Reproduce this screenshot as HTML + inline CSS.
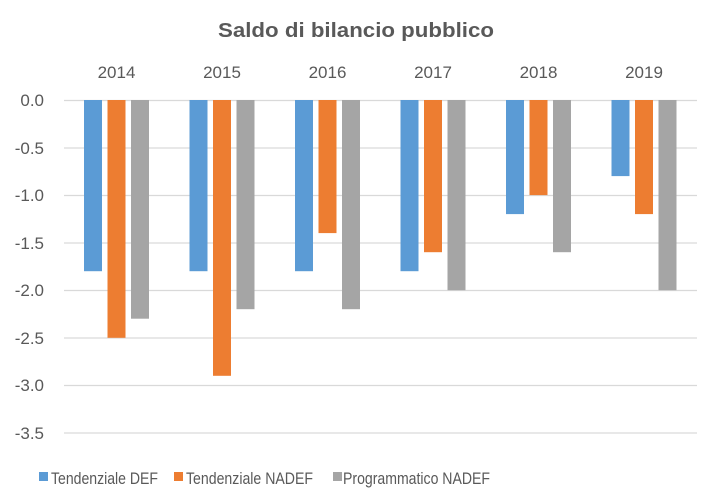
<!DOCTYPE html>
<html><head><style>body{margin:0;background:#fff}svg{display:block}text{font-family:"Liberation Sans",sans-serif;fill:#595959}</style></head><body>
<svg width="710" height="501" viewBox="0 0 710 501">
<rect width="710" height="501" fill="#fff"/>
<text x="218" y="37" font-size="20" font-weight="bold" textLength="276" lengthAdjust="spacingAndGlyphs">Saldo di bilancio pubblico</text>
<g stroke="#d9d9d9" stroke-width="1.3">
<line x1="64" x2="697" y1="100.5" y2="100.5"/><line x1="64" x2="697" y1="148" y2="148"/><line x1="64" x2="697" y1="195.5" y2="195.5"/><line x1="64" x2="697" y1="243" y2="243"/><line x1="64" x2="697" y1="290.5" y2="290.5"/><line x1="64" x2="697" y1="338" y2="338"/><line x1="64" x2="697" y1="385.5" y2="385.5"/><line x1="64" x2="697" y1="433" y2="433"/>
</g>
<g font-size="17" text-anchor="end">
<text x="44" y="106">0.0</text><text x="44" y="154">-0.5</text><text x="44" y="201">-1.0</text><text x="44" y="249">-1.5</text><text x="44" y="296">-2.0</text><text x="44" y="344">-2.5</text><text x="44" y="391">-3.0</text><text x="44" y="439">-3.5</text>
</g>
<g font-size="17" text-anchor="middle">
<text x="116.5" y="78">2014</text><text x="222" y="78">2015</text><text x="327.5" y="78">2016</text><text x="433" y="78">2017</text><text x="538.5" y="78">2018</text><text x="644" y="78">2019</text>
</g>
<g>
<rect x="84" y="100" width="18" height="171.2" fill="#5b9bd5"/>
<rect x="107.5" y="100" width="18" height="237.8" fill="#ed7d31"/>
<rect x="131" y="100" width="18" height="218.7" fill="#a5a5a5"/>
<rect x="189.5" y="100" width="18" height="171.2" fill="#5b9bd5"/>
<rect x="213" y="100" width="18" height="275.8" fill="#ed7d31"/>
<rect x="236.5" y="100" width="18" height="209.2" fill="#a5a5a5"/>
<rect x="295" y="100" width="18" height="171.2" fill="#5b9bd5"/>
<rect x="318.5" y="100" width="18" height="133.1" fill="#ed7d31"/>
<rect x="342" y="100" width="18" height="209.2" fill="#a5a5a5"/>
<rect x="400.5" y="100" width="18" height="171.2" fill="#5b9bd5"/>
<rect x="424" y="100" width="18" height="152.2" fill="#ed7d31"/>
<rect x="447.5" y="100" width="18" height="190.2" fill="#a5a5a5"/>
<rect x="506" y="100" width="18" height="114.1" fill="#5b9bd5"/>
<rect x="529.5" y="100" width="18" height="95.1" fill="#ed7d31"/>
<rect x="553" y="100" width="18" height="152.2" fill="#a5a5a5"/>
<rect x="611.5" y="100" width="18" height="76.1" fill="#5b9bd5"/>
<rect x="635" y="100" width="18" height="114.1" fill="#ed7d31"/>
<rect x="658.5" y="100" width="18" height="190.2" fill="#a5a5a5"/>
</g>
<rect x="39" y="472" width="9" height="9" fill="#5b9bd5"/>
<text x="51" y="484" font-size="17" textLength="107" lengthAdjust="spacingAndGlyphs">Tendenziale DEF</text>
<rect x="174" y="472" width="9" height="9" fill="#ed7d31"/>
<text x="186" y="484" font-size="17" textLength="127" lengthAdjust="spacingAndGlyphs">Tendenziale NADEF</text>
<rect x="333" y="472" width="9" height="9" fill="#a5a5a5"/>
<text x="343" y="484" font-size="17" textLength="147" lengthAdjust="spacingAndGlyphs">Programmatico NADEF</text>
</svg>
</body></html>
